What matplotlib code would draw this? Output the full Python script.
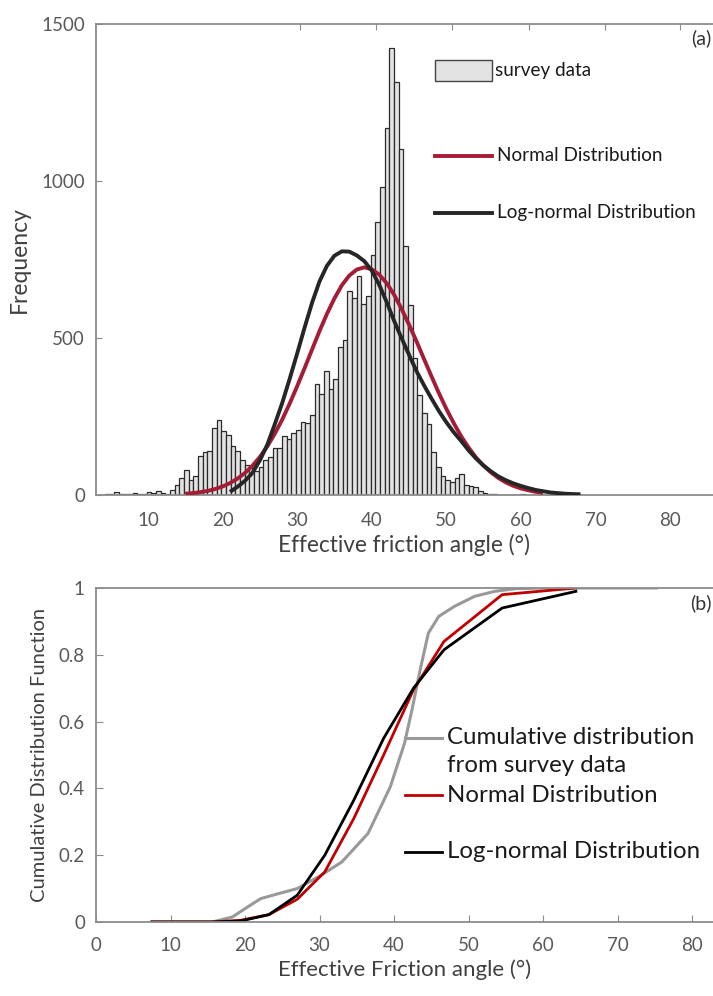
import numpy as np
import matplotlib
matplotlib.use("Agg")
import matplotlib.pyplot as plt
from matplotlib.patches import Rectangle

plt.rcParams['font.family'] = ['Lato', 'DejaVu Sans']

# ---------------- data ----------------
# (a) histogram of survey data (frequency per bin)
bin_start = 4.18
bin_width = 0.626
hist_freq = [2, 3, 8, 4, 3, 2, 5, 3, 4, 10, 5, 12, 5, 3,
             16, 32, 54, 80, 48, 60, 125, 137, 140, 213, 240, 205, 192, 157,
             140, 110, 96, 86, 75, 90, 112, 121, 150, 150, 188, 179, 198, 208,
             234, 230, 256, 355, 323, 396, 338, 370, 470, 493, 650, 626, 697,
             607, 634, 764, 868, 980, 1169, 1424, 1315, 1102, 793, 604, 437,
             320, 261, 227, 137, 90, 60, 48, 40, 55, 67, 33, 30, 25, 12, 5, 3,
             2, 1, 1, 0, 1, 0, 2, 0, 1]

# (a) fitted curves (frequency)
normal_x = list(range(15, 64))
normal_y = [4, 6, 9, 13, 19, 27, 38, 52, 70, 93, 121, 155, 195, 240, 291, 346,
            404, 463, 522, 577, 626, 668, 699, 718, 725,
            719, 702, 675, 638, 593, 543, 490, 434, 379, 325, 275, 229, 187,
            151, 119, 93, 72, 54, 40, 29, 21, 15, 10, 7]
lognorm_x = list(range(21, 69))
lognorm_y = [10, 26, 45, 70, 110, 160, 225, 293, 370, 450, 533, 612, 680, 730,
             762, 776, 775, 763, 745, 715, 670, 615, 555, 500, 447, 395, 350,
             308, 268, 232, 200, 172, 142, 116, 94, 75, 59, 47, 37, 29, 22, 16,
             12, 8, 6, 4, 3, 2]

# (b) cumulative distributions
survey_cdf_x = [7.5, 15.6, 18.3, 20.0, 22.1, 24.5, 27.0, 30.2, 33.0, 36.5, 39.5,
                41.4, 42.4, 43.5, 44.6, 46.0, 48.1, 50.8, 53.5, 56.3, 60.0, 75.2]
survey_cdf_y = [0, 0, 0.015, 0.04, 0.07, 0.085, 0.10, 0.14, 0.18, 0.265, 0.405,
                0.535, 0.635, 0.755, 0.865, 0.915, 0.945, 0.975, 0.99, 0.998,
                1.0, 1.0]
fit_cdf_x = [7.5, 15.5, 19.4, 23.2, 27.0, 30.7, 34.6, 38.6, 42.6, 46.7, 54.5, 64.4]
normal_cdf_y = [0, 0, 0.005, 0.022, 0.068, 0.15, 0.31, 0.50, 0.695, 0.84, 0.98, 1.0]
lognorm_cdf_y = [0, 0, 0.003, 0.022, 0.08, 0.20, 0.365, 0.55, 0.70, 0.815, 0.94, 0.99]

xticks_a = [10, 20, 30, 40, 50, 60, 70, 80]
yticks_a = [0, 500, 1000, 1500]
xticks_b = [0, 10, 20, 30, 40, 50, 60, 70, 80]
yticks_b = [0, 0.2, 0.4, 0.6, 0.8, 1]

# ---------------- styling ----------------
W, H = 713, 996
fig = plt.figure(figsize=(W / 100, H / 100), dpi=100)
spine_col = '#8c8c8c'
tick_col = '#595959'
label_col = '#404040'
red_a = '#A51C36'
dark_a = '#262626'

def px_axes(left, top, right, bottom):
    return fig.add_axes([left / W, 1 - bottom / H, (right - left) / W, (bottom - top) / H])

# ---------------- panel (a) ----------------
ax = px_axes(96, 24, 713, 495)
edges = bin_start + bin_width * np.arange(len(hist_freq))
ax.bar(edges, hist_freq, width=bin_width, align='edge', color='#e3e3e3',
       edgecolor='#2b2b2b', linewidth=0.9, zorder=2)
ax.plot(normal_x, normal_y, color=red_a, lw=2.8, zorder=3, solid_capstyle='butt')
ax.plot(lognorm_x, lognorm_y, color=dark_a, lw=2.8, zorder=3, solid_capstyle='butt')
ax.set_xlim(3.03, 85.77)
ax.set_ylim(0, 1500)
ax.set_xticks(xticks_a)
ax.set_yticks(yticks_a)
ax.tick_params(axis='x', length=0, pad=12, labelsize=13.5, labelcolor=tick_col)
ax.tick_params(axis='y', direction='in', length=4, color=spine_col, pad=8,
               labelsize=13.5, labelcolor=tick_col)
for s in ['left', 'top', 'bottom']:
    ax.spines[s].set_color(spine_col)
    ax.spines[s].set_linewidth(1.3)
ax.spines['right'].set_visible(False)
sec = ax.secondary_xaxis('top')
sec.set_xticks([30.4, 40.6, 50.8, 61.1, 71.3, 81.4])
sec.tick_params(direction='in', length=4, color=spine_col, labeltop=False)
sec.spines['top'].set_visible(False)
ax.set_xlabel('Effective friction angle (°)', fontsize=16.3, color=label_col, labelpad=4)
ax.set_ylabel('Frequency', fontsize=16.5, color=label_col, labelpad=8)

# manual legend (a)
ax.add_patch(Rectangle((0.549, 0.879), 0.093, 0.045, transform=ax.transAxes,
                       facecolor='#e3e3e3', edgecolor='#444444', lw=1.0, zorder=4))
ax.text(0.647, 0.902, 'survey data', transform=ax.transAxes, fontsize=13.6,
        va='center', ha='left', color='#1a1a1a')
ax.plot([0.549, 0.642], [0.720, 0.720], transform=ax.transAxes, color=red_a, lw=2.8)
ax.text(0.650, 0.720, 'Normal Distribution', transform=ax.transAxes, fontsize=13.6,
        va='center', ha='left', color='#1a1a1a')
ax.plot([0.549, 0.642], [0.599, 0.599], transform=ax.transAxes, color=dark_a, lw=2.8)
ax.text(0.650, 0.599, 'Log-normal Distribution', transform=ax.transAxes, fontsize=13.6,
        va='center', ha='left', color='#1a1a1a')
ax.text(0.997, 0.970, '(a)', transform=ax.transAxes, fontsize=14, va='center',
        ha='right', color='#333333')

# ---------------- panel (b) ----------------
bx = px_axes(96, 588, 713, 922)
bx.plot(survey_cdf_x, survey_cdf_y, color='#999999', lw=2.2)
bx.plot(fit_cdf_x, normal_cdf_y, color='#C00000', lw=2.0)
bx.plot(fit_cdf_x, lognorm_cdf_y, color='#000000', lw=2.0)
bx.set_xlim(0, 82.8)
bx.set_ylim(0, 1)
bx.set_xticks(xticks_b)
bx.set_yticks(yticks_b)
bx.set_yticklabels(['0', '0.2', '0.4', '0.6', '0.8', '1'])
bx.tick_params(axis='x', direction='in', length=5, color=spine_col, pad=11,
               labelsize=13.5, labelcolor=tick_col)
bx.tick_params(axis='y', direction='in', length=5, color=spine_col, pad=8,
               labelsize=13.5, labelcolor=tick_col)
for s in ['left', 'top', 'bottom']:
    bx.spines[s].set_color(spine_col)
    bx.spines[s].set_linewidth(1.3)
bx.spines['right'].set_visible(False)
bx.set_xlabel('Effective Friction angle (°)', fontsize=16, color=label_col, labelpad=4)
bx.set_ylabel('Cumulative Distribution Function', fontsize=14.5, color=label_col, labelpad=8)

# manual legend (b)
bx.plot([0.501, 0.561], [0.551, 0.551], transform=bx.transAxes, color='#999999', lw=2.2)
bx.text(0.569, 0.551, 'Cumulative distribution', transform=bx.transAxes,
        fontsize=17.3, va='center', ha='left', color='#1a1a1a')
bx.text(0.569, 0.470, 'from survey data', transform=bx.transAxes,
        fontsize=17.3, va='center', ha='left', color='#1a1a1a')
bx.plot([0.501, 0.561], [0.380, 0.380], transform=bx.transAxes, color='#C00000', lw=2.0)
bx.text(0.569, 0.380, 'Normal Distribution', transform=bx.transAxes,
        fontsize=17.3, va='center', ha='left', color='#1a1a1a')
bx.plot([0.501, 0.561], [0.2105, 0.2105], transform=bx.transAxes, color='#000000', lw=2.0)
bx.text(0.569, 0.2105, 'Log-normal Distribution', transform=bx.transAxes,
        fontsize=17.3, va='center', ha='left', color='#1a1a1a')
bx.text(0.997, 0.955, '(b)', transform=bx.transAxes, fontsize=14, va='center',
        ha='right', color='#333333')

fig.savefig('out.png', dpi=100)
